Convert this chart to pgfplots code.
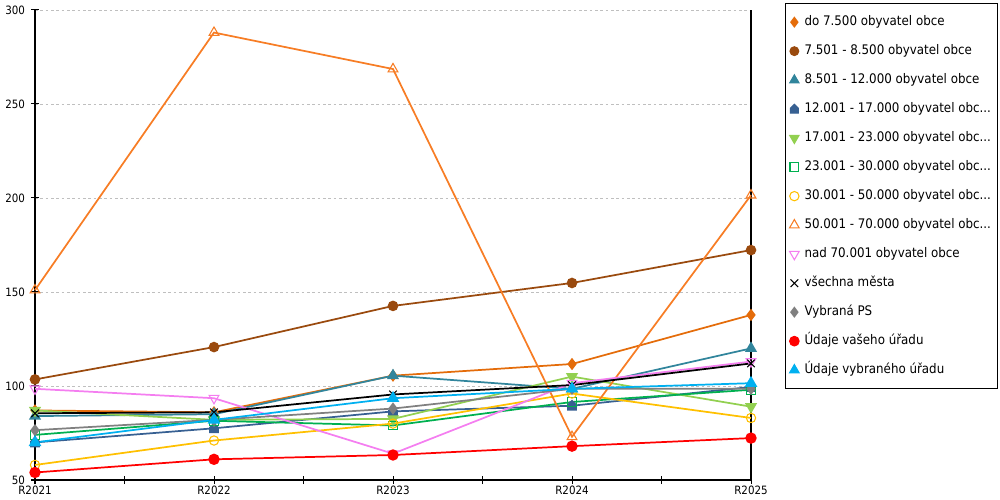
\documentclass[border=0pt]{standalone}
\usepackage{pgfplots}
\pgfplotsset{compat=1.18}
\usepackage{fontspec}
\setmainfont{DejaVu Sans Condensed}
\usetikzlibrary{plotmarks}
\definecolor{c1}{HTML}{E46C0A}
\definecolor{c2}{HTML}{9A4A0E}
\definecolor{c3}{HTML}{31859C}
\definecolor{c4}{HTML}{376092}
\definecolor{c5}{HTML}{92D050}
\definecolor{c6}{HTML}{00B050}
\definecolor{c7}{HTML}{FFC000}
\definecolor{c8}{HTML}{F77D25}
\definecolor{c9}{HTML}{F47EF0}
\definecolor{c11}{HTML}{808080}
\definecolor{c12}{HTML}{FF0000}
\definecolor{c13}{HTML}{00B0F0}
\pgfdeclareplotmark{house}{%
  \pgfpathmoveto{\pgfqpoint{-\pgfplotmarksize}{-\pgfplotmarksize}}%
  \pgfpathlineto{\pgfqpoint{\pgfplotmarksize}{-\pgfplotmarksize}}%
  \pgfpathlineto{\pgfqpoint{\pgfplotmarksize}{0.2\pgfplotmarksize}}%
  \pgfpathlineto{\pgfqpoint{0pt}{1.2\pgfplotmarksize}}%
  \pgfpathlineto{\pgfqpoint{-\pgfplotmarksize}{0.2\pgfplotmarksize}}%
  \pgfpathclose\pgfusepathqfillstroke}
\begin{document}
\begin{tikzpicture}
\useasboundingbox (0,0) rectangle (750pt,375pt);
\begin{axis}[
  at={(26.25pt,15pt)}, anchor=south west,
  scale only axis, width=537pt, height=352.5pt,
  xmin=0, xmax=4, ymin=50, ymax=300,
  xtick={0,1,2,3,4}, xticklabels={R2021,R2022,R2023,R2024,R2025},
  minor x tick num=1,
  ytick={50,100,150,200,250,300},
  /pgf/number format/assume math mode=true,
  axis x line*=bottom, axis y line*=left,
  axis line style={black, line width=0.9pt, -},
  tick align=center, major tick length=6pt, minor tick length=6pt,
  tick style={black, line width=0.75pt},
  ymajorgrids, major grid style={dash pattern=on 2pt off 2pt, gray!50, line width=0.5pt},
  extra x ticks={4}, extra x tick labels={}, extra x tick style={xmajorgrids, major grid style={solid, black, line width=0.9pt}, major tick length=0pt},
  font=\fontsize{8.6}{10}\selectfont,
  tick label style={font=\fontsize{8.6}{10}\selectfont},
  yticklabel style={xshift=-1pt},
  xticklabel style={yshift=2pt},
  clip=false,
  every axis plot/.append style={line width=1.3pt},
  legend image code/.code={\draw[#1, only marks, line width=0.8pt] plot coordinates {(0pt,0pt)};},
  legend style={at={(1.0475,1.0145)}, anchor=north west, draw=black, line width=0.75pt,
    font=\fontsize{9.9}{11}\selectfont, cells={anchor=west}, row sep=7.25pt,
    inner xsep=3pt, inner ysep=6.6pt,
    /tikz/every odd column/.append style={column sep=2pt},
    nodes={text height=8pt, text depth=2.5pt, inner sep=2pt}},
  legend cell align=left,
]
\addplot[c1, mark=diamond*, mark size=3.6pt, mark options={fill=c1, draw=c1}] coordinates {(0,87) (1,86) (2,105.5) (3,111.7) (4,137.8)};
\addlegendentry{do 7.500 obyvatel obce}
\addplot[c2, mark=*, mark size=3.3pt, mark options={fill=c2}] coordinates {(0,103.5) (1,120.7) (2,142.6) (3,154.8) (4,172.3)};
\addlegendentry{7.501 - 8.500 obyvatel obce}
\addplot[c3, mark=triangle*, mark size=4pt, mark options={fill=c3}] coordinates {(0,84) (1,85) (2,105.5) (3,98.5) (4,120)};
\addlegendentry{8.501 - 12.000 obyvatel obce}
\addplot[c4, mark=house, mark size=3pt, mark options={fill=c4}] coordinates {(0,70) (1,77.5) (2,86.5) (3,89.5) (4,99.5)};
\addlegendentry{12.001 - 17.000 obyvatel obc...}
\addplot[c5, mark=triangle*, mark size=4pt, mark options={fill=c5, rotate=180}] coordinates {(0,87) (1,82) (2,82.5) (3,105) (4,89)};
\addlegendentry{17.001 - 23.000 obyvatel obc...}
\addplot[c6, mark=square, mark size=3.3pt, mark options={line width=0.8pt}] coordinates {(0,74) (1,81.5) (2,79) (3,91.5) (4,98)};
\addlegendentry{23.001 - 30.000 obyvatel obc...}
\addplot[c7, mark=o, mark size=3.5pt, mark options={line width=0.8pt}] coordinates {(0,58) (1,71) (2,80) (3,96) (4,83)};
\addlegendentry{30.001 - 50.000 obyvatel obc...}
\addplot[c8, mark=triangle, mark size=4.2pt, mark options={line width=0.8pt}] coordinates {(0,151) (1,288) (2,268.6) (3,73) (4,201.5)};
\addlegendentry{50.001 - 70.000 obyvatel obc...}
\addplot[c9, mark=triangle, mark size=4.2pt, mark options={line width=0.8pt, rotate=180}] coordinates {(0,98.5) (1,93.5) (2,64) (3,101.5) (4,113)};
\addlegendentry{nad 70.001 obyvatel obce}
\addplot[black, mark=x, mark size=4pt, mark options={line width=0.8pt}] coordinates {(0,85.5) (1,86) (2,95.5) (3,100.5) (4,112)};
\addlegendentry{všechna města}
\addplot[c11, mark=diamond*, mark size=3.6pt, mark options={fill=c11}] coordinates {(0,76.5) (1,82) (2,88) (3,98.5) (4,98.5)};
\addlegendentry{Vybraná PS}
\addplot[c12, mark=*, mark size=3.6pt, mark options={fill=c12}] coordinates {(0,54) (1,61) (2,63.3) (3,68) (4,72.3)};
\addlegendentry{Údaje vašeho úřadu}
\addplot[c13, mark=triangle*, mark size=4.2pt, mark options={fill=c13}] coordinates {(0,70) (1,82) (2,93.5) (3,98.5) (4,101.5)};
\addlegendentry{Údaje vybraného úřadu}
\end{axis}
\end{tikzpicture}
\end{document}
